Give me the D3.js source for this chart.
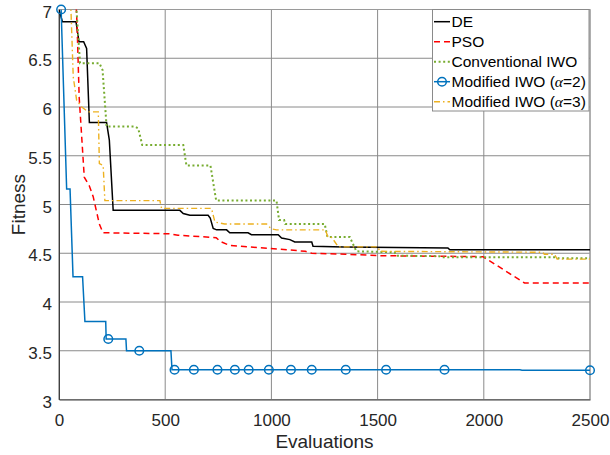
<!DOCTYPE html>
<html>
<head>
<meta charset="utf-8">
<script src="https://cdn.jsdelivr.net/npm/d3@7"></script>
<style>
  html, body { margin: 0; padding: 0; background: #fff; }
  svg { display: block; font-family: "Liberation Sans", Arial, sans-serif; }
</style>
</head>
<body>
<svg id="chart" width="610" height="455"></svg>
<script>
// Convergence histories: [evaluations, fitness]
const deCurve = [
  [0, 7.0], [16, 6.875], [80, 6.875], [94, 6.67], [116, 6.67], [130, 6.60],
  [143, 5.84], [224, 5.84], [237, 5.66], [255, 4.94], [569, 4.94], [585, 4.907],
  [616, 4.89], [702, 4.89], [712, 4.86], [726, 4.754], [742, 4.74], [789, 4.74],
  [804, 4.71], [890, 4.71], [906, 4.69], [1032, 4.69], [1048, 4.657], [1087, 4.64],
  [1110, 4.616], [1190, 4.616], [1196, 4.572], [1340, 4.565], [1831, 4.555],
  [1840, 4.535], [2500, 4.535]
];
const psoCurve = [
  [0, 7.6], [75, 7.3], [85, 6.85], [95, 6.1], [119, 5.28], [143, 5.19], [161, 5.08],
  [190, 4.80], [207, 4.71], [520, 4.70], [560, 4.685], [740, 4.66], [760, 4.62],
  [804, 4.58], [990, 4.55], [1160, 4.52], [1190, 4.50], [1350, 4.49], [1510, 4.475],
  [1996, 4.465], [2192, 4.195], [2500, 4.195]
];
const iwoCurve = [
  [0, 7.4], [70, 7.4], [99, 6.45], [190, 6.45], [205, 6.38], [224, 5.80], [357, 5.80],
  [373, 5.78], [392, 5.61], [585, 5.61], [600, 5.40], [713, 5.40], [740, 5.04],
  [1024, 5.04], [1036, 4.84], [1060, 4.84], [1065, 4.80], [1251, 4.80], [1264, 4.667],
  [1369, 4.667], [1400, 4.52], [1580, 4.51], [1590, 4.475], [1790, 4.47], [1800, 4.46],
  [2340, 4.46], [2350, 4.45], [2500, 4.45]
];
const mod2Curve = [
  [10, 7.0], [36, 5.16], [52, 5.16], [66, 4.26], [111, 4.26], [122, 3.80], [220, 3.80],
  [222, 3.62], [315, 3.62], [318, 3.50], [527, 3.50], [532, 3.305], [2170, 3.305],
  [2180, 3.30], [2500, 3.30]
];
const mod2Markers = [
  [10, 7.0], [232, 3.62], [378, 3.50], [544, 3.305], [635, 3.305], [746, 3.305],
  [828, 3.305], [893, 3.305], [988, 3.305], [1092, 3.305], [1190, 3.305], [1350, 3.305],
  [1540, 3.305], [1815, 3.305], [2500, 3.30]
];
const mod3Curve = [
  [0, 7.4], [50, 7.4], [67, 6.31], [83, 6.07], [107, 6.0], [138, 5.95], [185, 5.95],
  [190, 5.42], [208, 5.40], [216, 5.04], [475, 5.04], [483, 4.96], [718, 4.96],
  [734, 4.82], [780, 4.80], [977, 4.80], [1000, 4.75], [1024, 4.74], [1255, 4.74],
  [1265, 4.67], [1285, 4.66], [1315, 4.565], [1502, 4.565], [1510, 4.52], [2278, 4.51],
  [2285, 4.49], [2333, 4.49], [2345, 4.44], [2500, 4.44]
];

const xTicks = [0, 500, 1000, 1500, 2000, 2500];
const yTicks = [3, 3.5, 4, 4.5, 5, 5.5, 6, 6.5, 7];
const xTitle = "Evaluations";
const yTitle = "Fitness";

const series = [
  { name: "DE", data: deCurve, color: "#000000", width: 1.5, dash: null },
  { name: "PSO", data: psoCurve, color: "#ff0000", width: 1.5, dash: "6,4" },
  { name: "Conventional IWO", data: iwoCurve, color: "#77ac30", width: 2, dash: "2,2.6" },
  { name: "Modified IWO (", alpha: "=2)", data: mod2Curve, color: "#0072bd", width: 1.5, dash: null, markers: mod2Markers },
  { name: "Modified IWO (", alpha: "=3)", data: mod3Curve, color: "#edb120", width: 1.4, dash: "6,3,1.5,3" }
];

const svg = d3.select("#chart");
const margin = { left: 59, right: 20, top: 9.5, bottom: 55.5 };
const W = 610, H = 455;
const tickFont = "17px", titleFont = "19px", legendFont = "15.5px";

const x = d3.scaleLinear().domain([0, 2500]).range([margin.left, W - margin.right]);
const y = d3.scaleLinear().domain([3, 7]).range([H - margin.bottom, margin.top]);

svg.append("clipPath").attr("id", "plotClip")
  .append("rect")
  .attr("x", x(0)).attr("y", y(7))
  .attr("width", x(2500) - x(0)).attr("height", y(3) - y(7));

// grid
const grid = svg.append("g");
grid.selectAll("line.v").data(xTicks).join("line")
  .attr("x1", d => x(d)).attr("x2", d => x(d))
  .attr("y1", y(3)).attr("y2", y(7))
  .attr("stroke", "#8a8a8a").attr("stroke-width", 1);
grid.selectAll("line.h").data(yTicks).join("line")
  .attr("x1", x(0)).attr("x2", x(2500))
  .attr("y1", d => y(d)).attr("y2", d => y(d))
  .attr("stroke", "#8a8a8a").attr("stroke-width", 1);

// box
svg.append("rect")
  .attr("x", x(0)).attr("y", y(7))
  .attr("width", x(2500) - x(0)).attr("height", y(3) - y(7))
  .attr("fill", "none").attr("stroke", "#9a9a9a").attr("stroke-width", 1);

// axes
const xAxis = d3.axisBottom(x).tickValues(xTicks).tickSize(0).tickPadding(14).tickFormat(d3.format("d"));
const yAxis = d3.axisLeft(y).tickValues(yTicks).tickSize(0).tickPadding(7).tickFormat(d => String(d));

const gx = svg.append("g").attr("transform", `translate(0,${y(3)})`).call(xAxis);
const gy = svg.append("g").attr("transform", `translate(${x(0)},0)`).call(yAxis);
gy.selectAll("text").attr("dy", "0.45em");
[gx, gy].forEach(g => {
  g.select(".domain").attr("stroke", "#404040").attr("stroke-width", 1);
  g.selectAll("text").attr("fill", "#262626").style("font-size", tickFont)
    .style("font-family", "'Liberation Sans', Arial, sans-serif");
});

svg.append("text")
  .attr("x", (x(0) + x(2500)) / 2).attr("y", 448)
  .attr("text-anchor", "middle").attr("fill", "#262626")
  .style("font-size", titleFont).text(xTitle);
svg.append("text")
  .attr("transform", `translate(25,${(y(3) + y(7)) / 2}) rotate(-90)`)
  .attr("text-anchor", "middle").attr("fill", "#262626")
  .style("font-size", titleFont).text(yTitle);

// curves
const line = d3.line().x(d => x(d[0])).y(d => y(d[1]));
const plot = svg.append("g").attr("clip-path", "url(#plotClip)");
series.forEach(s => {
  plot.append("path").datum(s.data)
    .attr("d", line)
    .attr("fill", "none")
    .attr("stroke", s.color)
    .attr("stroke-width", s.width)
    .attr("stroke-dasharray", s.dash)
    .attr("stroke-linejoin", "miter");
  if (s.markers) {
    svg.append("g").selectAll("circle").data(s.markers).join("circle")
      .attr("cx", d => x(d[0])).attr("cy", d => y(d[1]))
      .attr("r", 4.3).attr("fill", "none")
      .attr("stroke", s.color).attr("stroke-width", 1.5);
  }
});

// legend
const lg = svg.append("g");
const lgX = 432.5, lgY = 9.5, lgW = 156.5, lgH = 101.5;
lg.append("rect").attr("x", lgX).attr("y", lgY).attr("width", lgW).attr("height", lgH)
  .attr("fill", "#fff").attr("stroke", "#8a8a8a").attr("stroke-width", 1);
series.forEach((s, i) => {
  const cy = 21.7 + i * 20;
  lg.append("line")
    .attr("x1", 434).attr("x2", 450).attr("y1", cy).attr("y2", cy)
    .attr("stroke", s.color).attr("stroke-width", s.width)
    .attr("stroke-dasharray", s.dash);
  if (s.markers) {
    lg.append("circle").attr("cx", 442).attr("cy", cy).attr("r", 4.3)
      .attr("fill", "none").attr("stroke", s.color).attr("stroke-width", 1.5);
  }
  const t = lg.append("text").attr("x", 451.5).attr("y", cy + 5.5)
    .attr("fill", "#000").style("font-size", legendFont);
  t.append("tspan").text(s.name);
  if (s.alpha) {
    t.append("tspan").style("font-family", "'Liberation Serif', 'Times New Roman', serif")
      .style("font-style", "italic").text("\u03b1");
    t.append("tspan").text(s.alpha);
  }
});
</script>
</body>
</html>
